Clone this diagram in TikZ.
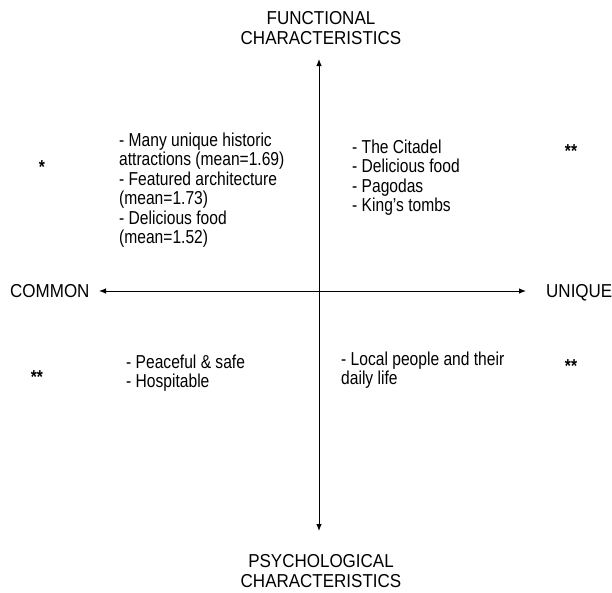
\documentclass[tikz,border=0pt]{standalone}
\usepackage{fontspec}
\setmainfont{Liberation Sans}
\usetikzlibrary{arrows.meta}

\tikzset{
  lbl/.style={font=\fontsize{15.6}{16.2}\selectfont, inner sep=0pt, yscale=1.2, transform shape},
  head/.style={font=\fontsize{17}{17.8}\selectfont, inner sep=0pt, yscale=1.1, transform shape},
  items/.style={lbl, align=left, anchor=base west},
  signif/.style={lbl, font=\fontsize{15.6}{16.2}\selectfont\bfseries},
  axis/.style={line width=0.9pt, {Latex[length=7pt,width=5.5pt]}-{Latex[length=7pt,width=5.5pt]}}
}

\begin{document}
\begin{tikzpicture}[x=1pt, y=-1pt]
        % Frame
        \useasboundingbox (0,0) rectangle (612,592);
        
        % Axis labels (base = last line)
        \node[head, align=center, anchor=base] (functional) at (321,44.5) {FUNCTIONAL\\CHARACTERISTICS};
        \node[head, align=center, anchor=base] (psych) at (321,587.5) {PSYCHOLOGICAL\\CHARACTERISTICS};
        \node[head, anchor=base west] (common) at (10,297) {COMMON};
        \node[head, anchor=base west] (unique) at (546,297) {UNIQUE};
        
        % Axes
        \coordinate (ytop) at (319,59);
        \coordinate (ybot) at (319,531);
        \coordinate (xleft) at (99,291);
        \coordinate (xright) at (526,291);
        \draw[axis] (ybot) -- (ytop);
        \draw[axis] (xleft) -- (xright);
        
        % Quadrant items
        \node[items] (topleft) at (119,243.5) {- Many unique historic\\attractions (mean=1.69)\\- Featured architecture\\(mean=1.73)\\- Delicious food\\(mean=1.52)};
        \node[items] (topright) at (352,211.5) {- The Citadel\\- Delicious food\\- Pagodas\\- King's tombs};
        \node[items] (botleft) at (126,387.5) {- Peaceful \& safe\\- Hospitable};
        \node[items] (botright) at (341,384.5) {- Local people and their\\daily life};
        
        % Significance marks
        \node[signif] (startl) at (42,167) {*};
        \node[signif] (startr) at (571,151) {**};
        \node[signif] (starbl) at (37,377) {**};
        \node[signif] (starbr) at (571,366.5) {**};
    \end{tikzpicture}
\end{document}
